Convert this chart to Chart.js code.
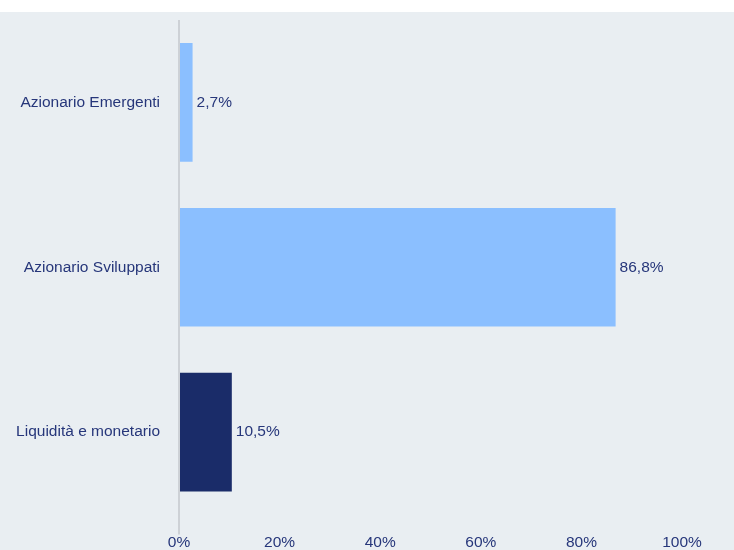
<!DOCTYPE html>
<html>
<head>
<meta charset="utf-8">
<script src="https://cdn.jsdelivr.net/npm/chart.js@4"></script>
<style>
  html, body { margin: 0; padding: 0; background: #ffffff; }
  #wrap { position: absolute; left: 0; top: 12px; width: 734px; height: 538px; background: #e9eef2; }
</style>
</head>
<body>
<div id="wrap"><canvas id="allocChart"></canvas></div>
<script>
const categories = ['Azionario Emergenti', 'Azionario Sviluppati', 'Liquidità e monetario'];
const weights = [2.7, 86.8, 10.5];
const barColors = ['#8bbfff', '#8bbfff', '#1a2c69'];
const xTicks = [0, 20, 40, 60, 80, 100];

const textColor = '#26367a';
const fontSpec = { family: '"Liberation Sans", Arial, sans-serif', size: 15.5 };

// draws the "86,8%" labels just past the end of each bar
const valueLabels = {
    id: 'valueLabels',
    afterDatasetsDraw(chart) {
        const ctx = chart.ctx;
        const meta = chart.getDatasetMeta(0);
        ctx.save();
        ctx.font = `${fontSpec.size}px ${fontSpec.family}`;
        ctx.fillStyle = textColor;
        ctx.textAlign = 'left';
        ctx.textBaseline = 'middle';
        meta.data.forEach((bar, i) => {
            const txt = weights[i].toFixed(1).replace('.', ',') + '%';
            ctx.fillText(txt, bar.x + 4, bar.y);
        });
        ctx.restore();
    }
};

const ctx = document.getElementById('allocChart').getContext('2d');
new Chart(ctx, {
    type: 'bar',
    data: {
        labels: categories,
        datasets: [{
            data: weights,
            backgroundColor: barColors,
            categoryPercentage: 1,
            barPercentage: 0.72
        }]
    },
    options: {
        indexAxis: 'y',
        responsive: true,
        maintainAspectRatio: false,
        animation: false,
        layout: { padding: { top: 8, right: 52, left: 0, bottom: 0 } },
        plugins: {
            legend: { display: false },
            tooltip: { enabled: false }
        },
        scales: {
            x: {
                min: 0,
                max: 100,
                afterBuildTicks: s => { s.ticks = xTicks.map(v => ({ value: v })); },
                ticks: {
                    color: textColor,
                    font: { ...fontSpec, lineHeight: 1 },
                    padding: 0,
                    maxRotation: 0,
                    callback: v => v + '%'
                },
                grid: {
                    color: c => c.tick && c.tick.value === 0 ? '#cdd1d6' : 'rgba(0,0,0,0)',
                    lineWidth: 2,
                    tickLength: 20
                },
                border: { display: false }
            },
            y: {
                afterFit: s => {
                    s.width = 179;
                    s.paddingTop = 0;
                    s.paddingBottom = 0;
                },
                ticks: { color: textColor, font: fontSpec, padding: 19 },
                grid: { display: false, drawTicks: false },
                border: { display: false }
            }
        }
    },
    plugins: [valueLabels]
});
</script>
</body>
</html>
